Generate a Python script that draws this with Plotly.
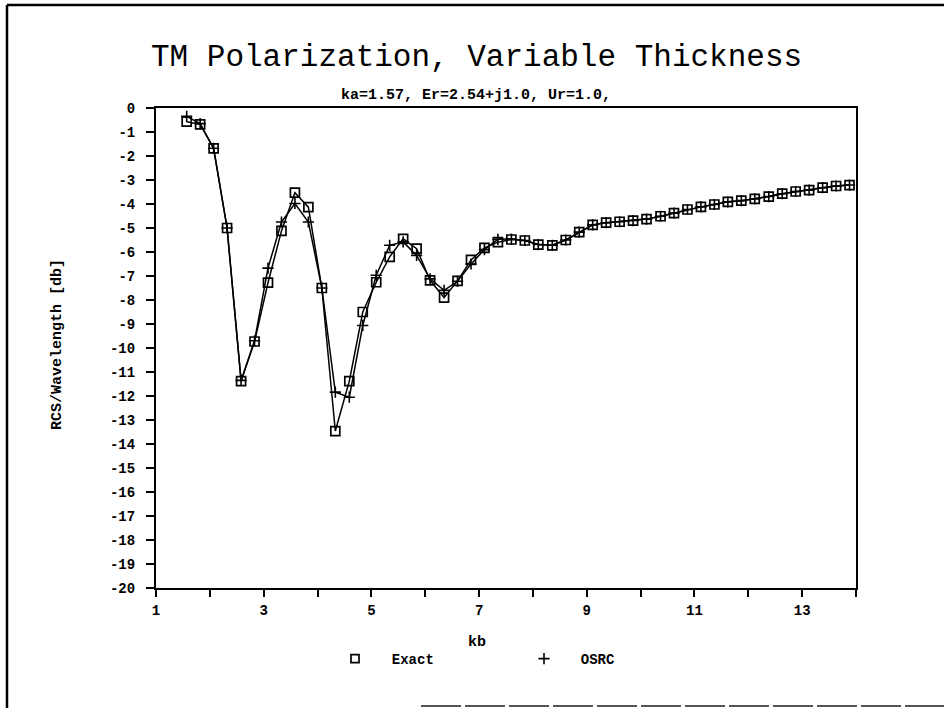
import plotly.graph_objects as go

# ---- data ----
kb = [1.57, 1.82, 2.07, 2.32, 2.58, 2.83, 3.08, 3.33, 3.58, 3.83,
      4.08, 4.33, 4.59, 4.84, 5.09, 5.34, 5.59, 5.84, 6.09, 6.35,
      6.60, 6.85, 7.10, 7.35, 7.60, 7.85, 8.10, 8.36, 8.61, 8.86,
      9.11, 9.36, 9.61, 9.86, 10.11, 10.37, 10.62, 10.87, 11.12, 11.37,
      11.62, 11.87, 12.12, 12.38, 12.63, 12.88, 13.13, 13.38, 13.63, 13.88]

exact = [-0.57, -0.68, -1.68, -5.00, -11.38, -9.73, -7.28, -5.12, -3.53, -4.13,
         -7.50, -13.46, -11.38, -8.50, -7.26, -6.20, -5.45, -5.86, -7.18, -7.90,
         -7.20, -6.33, -5.83, -5.59, -5.48, -5.52, -5.69, -5.72, -5.50, -5.17,
         -4.87, -4.78, -4.74, -4.69, -4.63, -4.51, -4.38, -4.23, -4.12, -4.02,
         -3.91, -3.86, -3.79, -3.69, -3.57, -3.48, -3.42, -3.32, -3.25, -3.21]

osrc = [-0.35, -0.65, -1.68, -5.00, -11.35, -9.70, -6.67, -4.75, -3.98, -4.75,
        -7.50, -11.84, -12.05, -9.06, -6.97, -5.72, -5.58, -6.14, -7.12, -7.60,
        -7.22, -6.50, -5.90, -5.47, -5.46, -5.52, -5.69, -5.72, -5.50, -5.17,
        -4.87, -4.78, -4.74, -4.69, -4.63, -4.51, -4.38, -4.23, -4.12, -4.02,
        -3.91, -3.86, -3.79, -3.69, -3.57, -3.48, -3.42, -3.32, -3.25, -3.21]

x_tickvals = list(range(1, 15))
x_ticktext = ["1", "", "3", "", "5", "", "7", "", "9", "", "11", "", "13", ""]
y_tickvals = list(range(0, -21, -1))
y_ticktext = [str(v) if v == 0 else "-" + str(-v) for v in y_tickvals]

title_text = "TM Polarization, Variable Thickness"
subtitle_text = "ka=1.57, Er=2.54+j1.0, Ur=1.0,"
x_title = "kb"
y_title = "RCS/Wavelength [db]"

MONO = "Liberation Mono, Courier New, monospace"

fig = go.Figure()

fig.add_trace(go.Scatter(
    x=kb, y=exact, mode="lines+markers", showlegend=False,
    line=dict(color="black", width=1.5),
    marker=dict(symbol="square-open", size=9, color="black", line=dict(width=1.7)),
))
fig.add_trace(go.Scatter(
    x=kb, y=osrc, mode="lines+markers", showlegend=False,
    line=dict(color="black", width=1.5),
    marker=dict(symbol="cross-thin-open", size=8, color="black", line=dict(width=1.6, color="black")),
))
# legend-only entries (marker symbol without line)
fig.add_trace(go.Scatter(
    x=[None], y=[None], mode="markers", name="  Exact",
    marker=dict(symbol="square-open", size=8, color="black", line=dict(width=1.7)),
))
fig.add_trace(go.Scatter(
    x=[None], y=[None], mode="markers", name="  OSRC",
    marker=dict(symbol="cross-thin-open", size=8, color="black", line=dict(width=1.6, color="black")),
))

L, R, T, B = 156, 88, 108, 120
W, H = 944, 708
PW, PH = W - L - R, H - T - B


def px(xp):
    return (xp - L) / PW


def py(yp):
    return (H - B - yp) / PH


fig.update_layout(
    width=W, height=H,
    margin=dict(l=L, r=R, t=T, b=B, autoexpand=False),
    paper_bgcolor="white", plot_bgcolor="white",
    font=dict(family=MONO, color="black", size=14),
    showlegend=True,
    legend=dict(
        orientation="h", x=px(335), xanchor="left", y=py(659), yanchor="middle",
        font=dict(family=MONO, size=14, weight="bold", color="black"),
        entrywidth=144, entrywidthmode="pixels", bgcolor="rgba(0,0,0,0)",
        itemclick=False,
    ),
    xaxis=dict(
        range=[1, 14], tickvals=x_tickvals, ticktext=x_ticktext,
        ticks="outside", ticklen=7, tickwidth=1.5, tickcolor="black",
        showline=True, linecolor="black", linewidth=2, mirror=True,
        showgrid=False, zeroline=False, ticklabelstandoff=1,
        tickfont=dict(family=MONO, size=14, weight="bold", color="black"),
    ),
    yaxis=dict(
        range=[-20, 0], tickvals=y_tickvals, ticktext=y_ticktext,
        ticks="outside", ticklen=8, tickwidth=1.5, tickcolor="black",
        showline=True, linecolor="black", linewidth=2, mirror=True,
        showgrid=False, zeroline=False, ticklabelstandoff=8,
        tickfont=dict(family=MONO, size=14, weight="bold", color="black"),
    ),
    annotations=[
        dict(text=title_text, x=px(476), y=py(58), xref="paper", yref="paper",
             showarrow=False, xanchor="center", yanchor="middle",
             font=dict(family=MONO, size=31, color="black")),
        dict(text=subtitle_text, x=px(476), y=py(95), xref="paper", yref="paper",
             showarrow=False, xanchor="center", yanchor="middle",
             font=dict(family=MONO, size=15, weight="bold", color="black")),
        dict(text=x_title, x=px(477), y=py(642), xref="paper", yref="paper",
             showarrow=False, xanchor="center", yanchor="middle",
             font=dict(family=MONO, size=15, weight="bold", color="black")),
        dict(text=y_title, x=px(57), y=py(345), xref="paper", yref="paper",
             showarrow=False, xanchor="center", yanchor="middle", textangle=-90,
             font=dict(family=MONO, size=15, weight="bold", color="black")),
    ],
    shapes=[
        # page frame (scanned border)
        dict(type="line", xref="paper", yref="paper", x0=px(7), x1=px(7), y0=py(5), y1=py(708),
             line=dict(color="black", width=2.5)),
        dict(type="line", xref="paper", yref="paper", x0=px(7), x1=px(944), y0=py(5), y1=py(5),
             line=dict(color="black", width=2.5)),
        dict(type="line", xref="paper", yref="paper", x0=px(421), x1=px(944), y0=py(706), y1=py(706),
             line=dict(color="#555555", width=2, dash="40px,4px")),
    ],
)

fig.write_html("out.html")
